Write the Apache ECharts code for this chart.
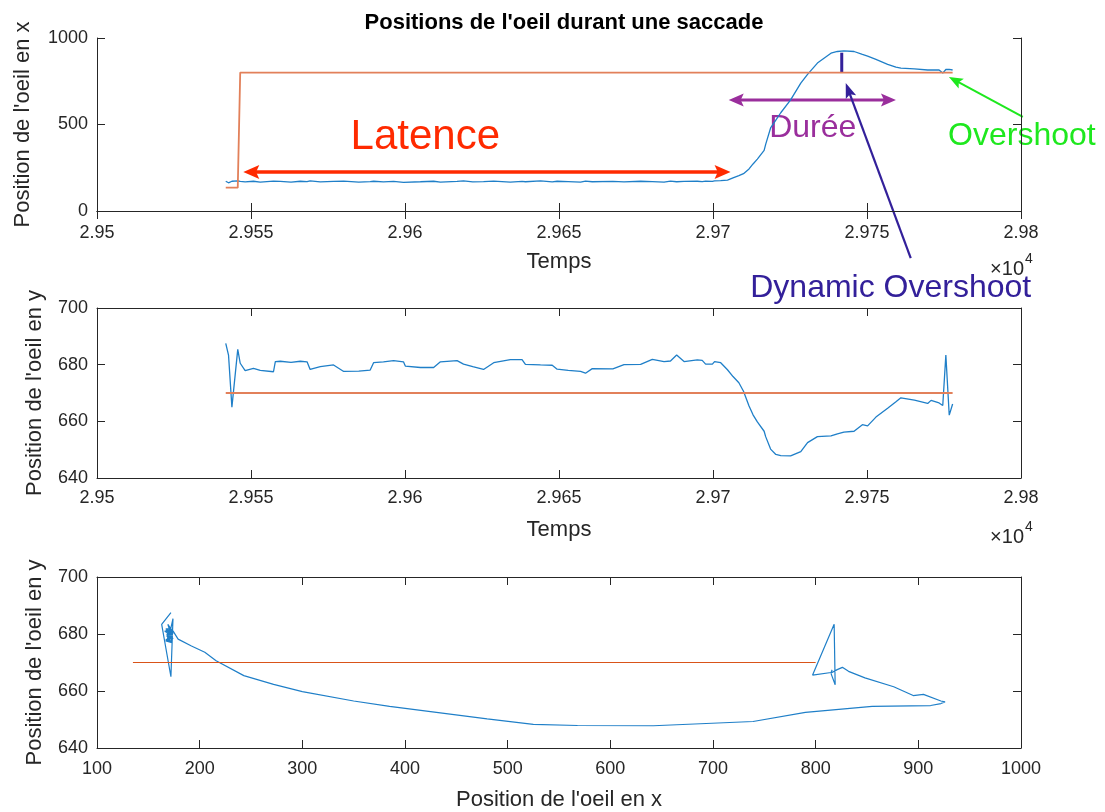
<!DOCTYPE html>
<html>
<head>
<meta charset="utf-8">
<script src="https://cdn.jsdelivr.net/npm/echarts@6/dist/echarts.min.js"></script>
<style>
  html, body { margin: 0; padding: 0; background: #fff; }
  #chart { width: 1105px; height: 812px; }
</style>
</head>
<body>
<div id="chart"></div>
<script>
// temps (unités brutes, affichées x 10^4)
const temps = [
  29541.8, 29542.7, 29543.8, 29545.7, 29546.5, 29548.1, 29550.8, 29553.0, 29557.3, 29557.9,
  29559.5, 29563.0, 29566.0, 29568.2, 29569.2, 29572.5, 29576.8, 29580.1, 29585.0, 29588.7,
  29589.8, 29593.0, 29596.3, 29599.5, 29600.1, 29605.0, 29609.3, 29611.5, 29616.9, 29619.0,
  29622.0, 29625.5, 29628.8, 29634.2, 29638.0, 29639.1, 29644.0, 29647.8, 29649.4, 29653.0,
  29657.0, 29658.6, 29660.8, 29667.5, 29671.1, 29676.5, 29680.3, 29684.1, 29686.2, 29688.2,
  29690.6, 29694.9, 29696.5, 29697.6, 29699.8, 29700.5, 29702.5, 29704.7, 29706.5, 29708.4,
  29709.9, 29711.7, 29713.0, 29714.4, 29716.6, 29717.1, 29718.7, 29720.4, 29722.0, 29725.2,
  29728.5, 29730.7, 29733.9, 29738.3, 29740.4, 29742.5, 29745.8, 29748.5, 29750.2, 29752.9,
  29756.7, 29759.4, 29761.0, 29765.4, 29769.7, 29770.8, 29773.4, 29774.6, 29775.6, 29776.7,
  29777.8
];
// position de l'oeil en x
const posX = [
  172, 163, 172, 174, 171, 168, 172, 167, 173, 169,
  171, 167, 172, 170, 174, 168, 171, 173, 167, 170,
  172, 168, 171, 166, 173, 169, 172, 167, 171, 174,
  168, 170, 173, 167, 171, 169, 174, 168, 172, 170,
  167, 173, 169, 171, 168, 172, 170, 167, 173, 169,
  171, 172, 170, 173, 171, 174, 175, 179, 192, 205,
  216, 243, 272, 300, 350, 385, 480, 525, 568, 642,
  739, 790, 855, 912, 922, 926, 922, 905, 895, 876,
  848, 832, 826, 821, 815, 816, 815, 797, 818, 819,
  815
];
// position de l'oeil en y
const posY = [
  687.5, 683.4, 665.0, 685.4, 680.5, 677.9, 678.7, 678.0, 677.5, 681.1,
  681.2, 680.8, 681.2, 681.0, 678.3, 679.3, 679.9, 677.6, 677.7, 678.1,
  680.7, 681.0, 681.4, 681.0, 679.5, 679.0, 679.0, 681.0, 681.4, 680.2,
  679.3, 678.3, 680.7, 681.8, 681.8, 680.1, 679.9, 679.8, 678.4, 678.0,
  677.6, 677.0, 678.6, 678.5, 680.0, 680.1, 681.9, 681.1, 681.3, 683.4,
  681.1, 681.7, 681.5, 680.2, 680.2, 681.1, 680.7, 678.2, 675.8, 673.6,
  670.6, 665.4, 662.3, 659.8, 656.5, 654.6, 650.2, 648.3, 647.9, 647.8,
  649.3, 652.5, 654.6, 654.9, 655.6, 656.2, 656.5, 658.8, 658.4, 661.5,
  664.6, 666.9, 668.3, 667.5, 666.3, 667.4, 666.5, 665.6, 683.4, 662.2,
  666.1
];
// cible
const cibleT = [29541.8, 29545.7, 29546.5, 29777.8];
const cibleX = [135, 135, 800, 800];
const cibleY = [670, 670, 670, 670];

// graduations
const ticksTemps = [29500, 29550, 29600, 29650, 29700, 29750, 29800];
const ticksX = [0, 500, 1000];
const ticksY = [640, 660, 680, 700];
const ticksPosX = [100, 200, 300, 400, 500, 600, 700, 800, 900, 1000];

const FONT = "'Liberation Sans', Arial, Helvetica, sans-serif";
const AX = '#262626';
const BLEU = '#1f7fc8';
const ORANGE = '#e2805a';

const chart = echarts.init(document.getElementById('chart'));

function axeBas(g, ticks, name, nameGap, margin, fmt) {
  return {
    type: 'value', gridIndex: g, position: 'bottom',
    min: ticks[0], max: ticks[ticks.length - 1], interval: ticks[1] - ticks[0],
    name: name, nameLocation: 'middle', nameGap: nameGap,
    nameTextStyle: { fontFamily: FONT, fontSize: 22, color: AX },
    axisLine: { show: true, lineStyle: { color: AX, width: 1 } },
    axisTick: { show: true, inside: true, length: 8, lineStyle: { color: AX } },
    axisLabel: { fontFamily: FONT, fontSize: 18, color: AX, margin: margin, showMinLabel: true, showMaxLabel: true, formatter: fmt },
    splitLine: { show: false }
  };
}
function axeHaut(g, ticks) {
  return {
    type: 'value', gridIndex: g, position: 'top',
    min: ticks[0], max: ticks[ticks.length - 1], interval: ticks[1] - ticks[0],
    axisLine: { show: true, lineStyle: { color: AX, width: 1 } },
    axisTick: { show: true, inside: true, length: 8, lineStyle: { color: AX } },
    axisLabel: { show: false },
    splitLine: { show: false }
  };
}
function axeGauche(g, ticks, name, nameGap) {
  return {
    type: 'value', gridIndex: g, position: 'left',
    min: ticks[0], max: ticks[ticks.length - 1], interval: ticks[1] - ticks[0],
    name: name, nameLocation: 'middle', nameGap: nameGap,
    nameTextStyle: { fontFamily: FONT, fontSize: 22, color: AX },
    axisLine: { show: true, lineStyle: { color: AX, width: 1 } },
    axisTick: { show: true, inside: true, length: 8, lineStyle: { color: AX } },
    axisLabel: { fontFamily: FONT, fontSize: 18, color: AX, margin: 9, showMinLabel: true, showMaxLabel: true, formatter: v => String(v) },
    splitLine: { show: false }
  };
}
function axeDroite(g, ticks) {
  return {
    type: 'value', gridIndex: g, position: 'right',
    min: ticks[0], max: ticks[ticks.length - 1], interval: ticks[1] - ticks[0],
    axisLine: { show: true, lineStyle: { color: AX, width: 1 } },
    axisTick: { show: true, inside: true, length: 8, lineStyle: { color: AX } },
    axisLabel: { show: false },
    splitLine: { show: false }
  };
}
const fmtTemps = v => String(parseFloat((v / 10000).toFixed(4)));

function ligne(g, data, color, width) {
  return {
    type: 'line', xAxisIndex: g * 2, yAxisIndex: g * 2, data: data,
    showSymbol: false, symbol: 'none', animation: false, clip: true,
    lineStyle: { color: color, width: width }
  };
}

chart.setOption({
  animation: false,
  title: {
    text: "Positions de l'oeil durant une saccade",
    left: 559, top: 7, textAlign: 'center',
    textStyle: { fontFamily: FONT, fontSize: 22, fontWeight: 'bold', color: '#000' }
  },
  grid: [
    { left: 97, right: 84, top: 38, height: 173 },
    { left: 97, right: 84, top: 308, height: 170 },
    { left: 97, right: 84, top: 577, height: 171 }
  ],
  xAxis: [
    axeBas(0, ticksTemps, 'Temps', 40, 13, fmtTemps), axeHaut(0, ticksTemps),
    axeBas(1, ticksTemps, 'Temps', 41, 11, fmtTemps), axeHaut(1, ticksTemps),
    axeBas(2, ticksPosX, "Position de l'oeil en x", 41, 12, v => String(v)), axeHaut(2, ticksPosX)
  ],
  yAxis: [
    axeGauche(0, ticksX, "Position de l'oeil en x", 63), axeDroite(0, ticksX),
    axeGauche(1, ticksY, "Position de l'oeil en y", 51), axeDroite(1, ticksY),
    axeGauche(2, ticksY, "Position de l'oeil en y", 51), axeDroite(2, ticksY)
  ],
  series: [
    ligne(0, temps.map((t, i) => [t, posX[i]]), BLEU, 1.3),
    ligne(0, cibleT.map((t, i) => [t, cibleX[i]]), ORANGE, 1.8),
    ligne(1, temps.map((t, i) => [t, posY[i]]), BLEU, 1.3),
    ligne(1, cibleT.map((t, i) => [t, cibleY[i]]), ORANGE, 2.2),
    ligne(2, posX.map((x, i) => [x, posY[i]]), BLEU, 1.2),
    ligne(2, cibleX.map((x, i) => [x, cibleY[i]]), '#d95319', 1.2)
  ]
});

// annotations (coordonnées du premier graphique)
const P = (t, v) => chart.convertToPixel({ seriesIndex: 0 }, [t, v]);
const PX = (g, t, v) => chart.convertToPixel({ seriesIndex: g * 2 }, [t, v]);

function tete(tip, ux, uy, len, wid, color) {
  const bx = tip[0] - ux * len, by = tip[1] - uy * len;
  const nx = -uy, ny = ux;
  return {
    type: 'polygon', silent: true,
    shape: { points: [
      tip,
      [bx + nx * wid / 2, by + ny * wid / 2],
      [bx + ux * len * 0.2, by + uy * len * 0.2],
      [bx - nx * wid / 2, by - ny * wid / 2]
    ] },
    style: { fill: color }
  };
}
function fleche(p0, p1, color, width, len, wid, double) {
  const dx = p1[0] - p0[0], dy = p1[1] - p0[1];
  const L = Math.hypot(dx, dy), ux = dx / L, uy = dy / L;
  const s = double ? [p0[0] + ux * len * 0.7, p0[1] + uy * len * 0.7] : p0;
  const e = [p1[0] - ux * len * 0.7, p1[1] - uy * len * 0.7];
  const out = [{
    type: 'line', silent: true,
    shape: { x1: s[0], y1: s[1], x2: e[0], y2: e[1] },
    style: { stroke: color, lineWidth: width }
  }, tete(p1, ux, uy, len, wid, color)];
  if (double) out.push(tete(p0, -ux, -uy, len, wid, color));
  return out;
}
function texte(p, txt, size, color, align) {
  return {
    type: 'text', silent: true, x: p[0], y: p[1],
    style: { text: txt, font: size + 'px ' + FONT, fill: color, textAlign: align || 'center', textVerticalAlign: 'middle' }
  };
}

const ROUGE = '#ff2a00', VIOLET = '#9a2e9c', VERT = '#1ee81e', INDIGO = '#33209a';
const pic0 = P(29741.8, 915), pic1 = P(29741.8, 800);
const g0 = P(29800, 0), g1 = PX(1, 29800, 640);

const elements = [].concat(
  fleche(P(29547.5, 226), P(29705.7, 226), ROUGE, 3.5, 16, 14, true),
  [texte(P(29606.6, 428), 'Latence', 42, ROUGE)],
  fleche(P(29705.1, 642), P(29759.4, 642), VIOLET, 3, 15, 13, true),
  [texte(P(29732.4, 480), 'Durée', 32, VIOLET)],
  fleche(P(29800.6, 544), P(29776.6, 775), VERT, 2, 14, 11, false),
  [texte(P(29800.3, 434), 'Overshoot', 32, VERT)],
  [{ type: 'line', silent: true, shape: { x1: pic0[0], y1: pic0[1], x2: pic1[0], y2: pic1[1] }, style: { stroke: INDIGO, lineWidth: 3 } }],
  fleche(P(29764.2, -272), P(29743.1, 740), INDIGO, 2.2, 15, 11, false),
  [texte(P(29757.7, -445), 'Dynamic Overshoot', 32, INDIGO)],
  [
    texte([g0[0] + 3, g0[1] + 58], '×10', 20, AX, 'right'),
    texte([g0[0] + 4, g0[1] + 48], '4', 14, AX, 'left'),
    texte([g1[0] + 3, g1[1] + 59], '×10', 20, AX, 'right'),
    texte([g1[0] + 4, g1[1] + 49], '4', 14, AX, 'left')
  ]
);
chart.setOption({ graphic: { elements: elements } });
</script>
</body>
</html>
